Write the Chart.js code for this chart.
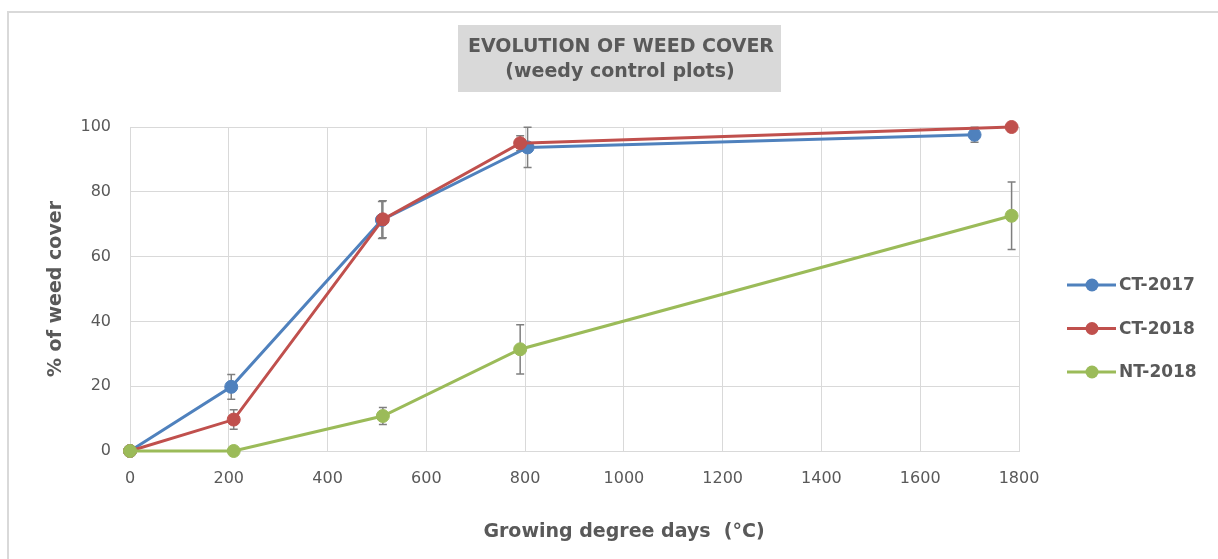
<!DOCTYPE html>
<html>
<head>
<meta charset="utf-8">
<script src="https://cdn.jsdelivr.net/npm/chart.js@4/dist/chart.umd.min.js"></script>
<style>
  html, body { margin: 0; padding: 0; background: #fff; }
  canvas { display: block; }
</style>
</head>
<body>
<canvas id="weedChart" width="1218" height="559"></canvas>
<script>
// growing degree days of each sampling date
const degreeDays2017 = [0, 205, 510, 805, 1710];
const degreeDays2018 = [0, 210, 512, 790, 1785];

// mean weed cover (%) and standard error
const coverCT2017 = [0, 19.8, 71.3, 93.7, 97.6];
const errCT2017 = [0, 3.8, 5.7, 6.2, 2.3];
const coverCT2018 = [0, 9.7, 71.5, 95.0, 100];
const errCT2018 = [0, 3.0, 5.7, 2.3, 0];
const coverNT2018 = [0, 0, 10.8, 31.4, 72.6];
const errNT2018 = [0, 0, 2.6, 7.6, 10.4];

const seriesNames = ['CT-2017', 'CT-2018', 'NT-2018'];
const titleLines = ['EVOLUTION OF WEED COVER', '(weedy control plots)'];
const xTitle = 'Growing degree days  (°C)';
const yTitle = '% of weed cover';

const FONT = "'DejaVu Sans', sans-serif";
const TEXT = '#595959';
const GRID = '#d9d9d9';

function toPoints(xs, ys) {
    return xs.map((x, i) => ({ x: x, y: ys[i] }));
}

function makeSeries(label, xs, ys, errs, color, order) {
    return {
        label: label,
        data: toPoints(xs, ys),
        errors: errs,
        borderColor: color,
        backgroundColor: color,
        borderWidth: 3,
        pointRadius: 6.5,
        pointHoverRadius: 6.5,
        pointBorderWidth: 1,
        showLine: true,
        tension: 0,
        clip: false,
        order: order
    };
}

// error bars, drawn under the lines
const errorBars = {
    id: 'errorBars',
    beforeDatasetsDraw(chart) {
        const ctx = chart.ctx;
        const xs = chart.scales.x, ys = chart.scales.y;
        ctx.save();
        ctx.strokeStyle = '#7f7f7f';
        ctx.lineWidth = 1.5;
        chart.data.datasets.forEach(ds => {
            ds.data.forEach((p, i) => {
                const e = ds.errors[i];
                if (!e) return;
                const px = xs.getPixelForValue(p.x);
                const top = ys.getPixelForValue(Math.min(p.y + e, 100));
                const bot = ys.getPixelForValue(p.y - e);
                ctx.beginPath();
                ctx.moveTo(px, top); ctx.lineTo(px, bot);
                ctx.moveTo(px - 4, top); ctx.lineTo(px + 4, top);
                ctx.moveTo(px - 4, bot); ctx.lineTo(px + 4, bot);
                ctx.stroke();
            });
        });
        ctx.restore();
    }
};

// frame, title box, axis titles and legend
const decorations = {
    id: 'decorations',
    afterDraw(chart) {
        const ctx = chart.ctx;
        const area = chart.chartArea;
        ctx.save();

        ctx.strokeStyle = GRID;
        ctx.lineWidth = 2;
        ctx.beginPath();
        ctx.moveTo(8, chart.height);
        ctx.lineTo(8, 12);
        ctx.lineTo(chart.width, 12);
        ctx.stroke();

        ctx.fillStyle = GRID;
        ctx.fillRect(458, 25, 323, 67);
        ctx.fillStyle = TEXT;
        ctx.textAlign = 'center';
        ctx.textBaseline = 'alphabetic';
        ctx.font = 'bold 19px ' + FONT;
        ctx.fillText(titleLines[0], 621, 52);
        ctx.fillText(titleLines[1], 620, 77);

        ctx.fillText(xTitle, 624, 537);

        ctx.save();
        ctx.translate(56, (area.top + area.bottom) / 2);
        ctx.rotate(-Math.PI / 2);
        ctx.textBaseline = 'middle';
        ctx.fillText(yTitle, 0, 0);
        ctx.restore();

        ctx.font = 'bold 17px ' + FONT;
        ctx.textAlign = 'left';
        ctx.textBaseline = 'middle';
        chart.data.datasets.forEach((ds, i) => {
            const cy = 285 + i * 43.5;
            ctx.strokeStyle = ds.borderColor;
            ctx.lineWidth = 3;
            ctx.beginPath();
            ctx.moveTo(1067, cy); ctx.lineTo(1116, cy);
            ctx.stroke();
            ctx.fillStyle = ds.backgroundColor;
            ctx.beginPath();
            ctx.arc(1092, cy, 6.5, 0, Math.PI * 2);
            ctx.fill();
            ctx.fillStyle = TEXT;
            ctx.fillText(ds.label, 1119, cy + 1);
        });
        ctx.restore();
    }
};

new Chart(document.getElementById('weedChart').getContext('2d'), {
    type: 'scatter',
    data: {
        datasets: [
            makeSeries(seriesNames[0], degreeDays2017, coverCT2017, errCT2017, '#4f81bd', 3),
            makeSeries(seriesNames[1], degreeDays2018, coverCT2018, errCT2018, '#c0504d', 2),
            makeSeries(seriesNames[2], degreeDays2018, coverNT2018, errNT2018, '#9bbb59', 1)
        ]
    },
    options: {
        responsive: false,
        animation: false,
        layout: { padding: { left: 0, top: 127, right: 199, bottom: 0 } },
        plugins: {
            legend: { display: false },
            title: { display: false },
            tooltip: { enabled: false }
        },
        scales: {
            x: {
                type: 'linear',
                min: 0,
                max: 1800,
                afterFit: s => { s.height = 108; },
                ticks: {
                    stepSize: 200, color: TEXT, padding: 18,
                    font: { family: FONT, size: 16 },
                    callback: v => String(v)
                },
                grid: { color: GRID, lineWidth: 1, drawTicks: false },
                border: { color: GRID }
            },
            y: {
                min: 0,
                max: 100,
                afterFit: s => { s.width = 130; },
                ticks: {
                    stepSize: 20, color: TEXT, padding: 19,
                    font: { family: FONT, size: 16 },
                    callback: v => String(v)
                },
                grid: { color: GRID, lineWidth: 1, drawTicks: false },
                border: { color: GRID }
            }
        }
    },
    plugins: [errorBars, decorations]
});
</script>
</body>
</html>
